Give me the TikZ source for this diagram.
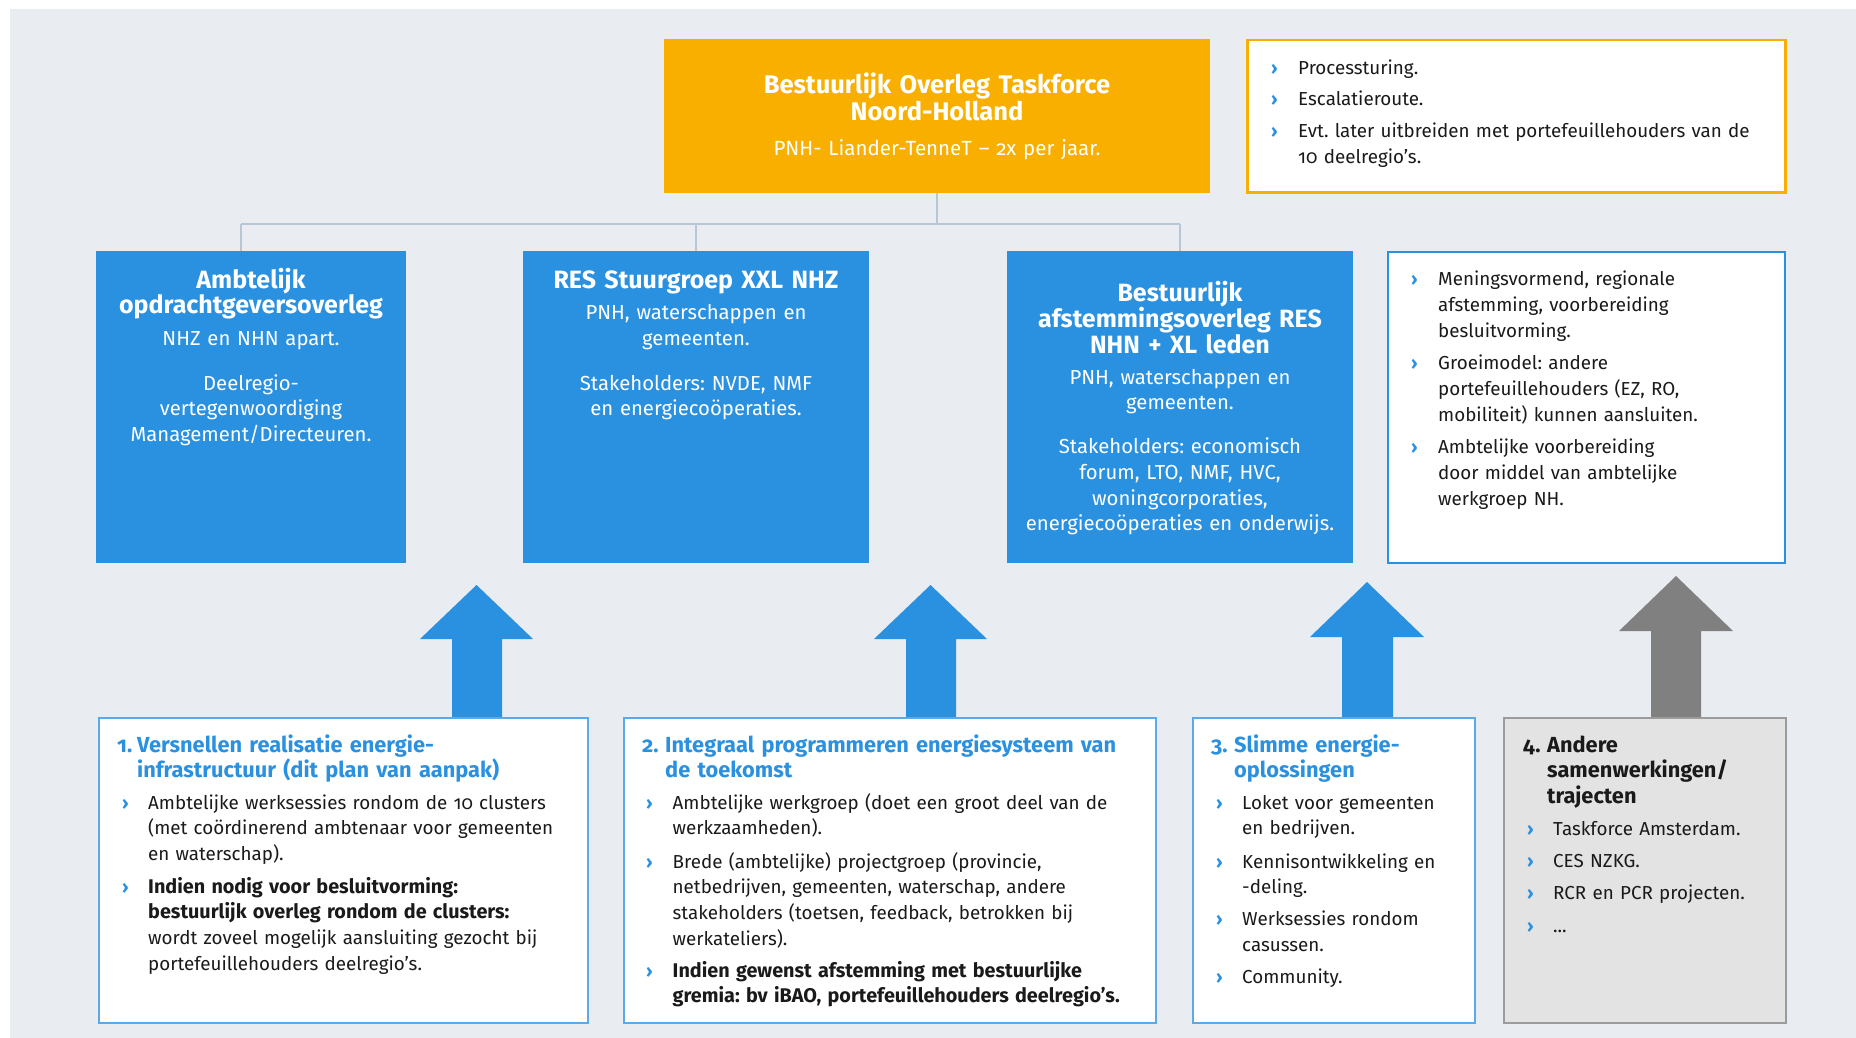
\documentclass[tikz,border=0pt]{standalone}
\usepackage{fontspec}
\setmainfont{Fira Sans}[Numbers=OldStyle]
\usetikzlibrary{calc}
\definecolor{bgc}{HTML}{E9EDF2}
\definecolor{orng}{HTML}{F9AF00}
\definecolor{blu}{HTML}{2A90E0}
\definecolor{bluline}{HTML}{5AAAE9}
\definecolor{conn}{HTML}{B9C6D6}
\definecolor{arrgray}{HTML}{808080}
\definecolor{grayfill}{HTML}{E3E3E3}
\definecolor{grayline}{HTML}{9B9B9B}
\definecolor{txt}{HTML}{1A1A1A}
\frenchspacing
\newcommand{\fbody}{\fontsize{18.8}{25.8}\selectfont}
\newcommand{\fblue}{\fontsize{20.3}{25.8}\selectfont}
\newcommand{\fbtitle}{\bfseries\fontsize{25}{25.5}\selectfont}
\newcommand{\fotitle}{\bfseries\fontsize{25.5}{24}\selectfont}
\newcommand{\fhead}{\bfseries\fontsize{21.8}{25.5}\selectfont}
\newcommand{\bld}[1]{{\bfseries\fontsize{19.8}{25.8}\selectfont #1}}
\newcommand{\bitem}[5]{%
  \node[bul] (#1b) at (#2,#4) {›};
  \node[itm] (#1) at (#3,#4) {#5};}
\begin{document}
\begin{tikzpicture}[x=1pt,y=-1pt,
  box/.style={rectangle, inner sep=0pt, anchor=north west},
  bul/.style={anchor=base west, inner sep=0pt, font=\bfseries\fontsize{18}{20}\selectfont, text=blu},
  itm/.style={anchor=base west, inner sep=0pt, font=\fbody, text=txt, text width=520pt, align=left},
  ctr/.style={anchor=base, inner sep=0pt, text=white, text width=340pt, align=center},
  hd/.style={anchor=base west, inner sep=0pt, font=\fhead, text=blu, text width=520pt, align=left},
  conline/.style={draw=conn, line width=2pt},
  arrow/.style={fill=blu}
]
\fill[white] (0,0) rectangle (1856,1038);
\useasboundingbox (0,0) rectangle (1856,1038);
\fill[bgc] (10,9) rectangle (1856,1038);

% top boxes
\node[box, fill=orng, minimum width=546pt, minimum height=154pt] (top) at (664,39) {};
\node[box, fill=white, draw=orng, line width=2.5pt, minimum width=538pt, minimum height=152pt] (note1) at (1246,39) {};

% blue boxes
\node[box, fill=blu, minimum width=310pt, minimum height=312pt] (b1) at (96,251) {};
\node[box, fill=blu, minimum width=346pt, minimum height=312pt] (b2) at (523,251) {};
\node[box, fill=blu, minimum width=346pt, minimum height=312pt] (b3) at (1007,251) {};
\node[box, fill=white, draw=blu, line width=2pt, minimum width=397pt, minimum height=311pt] (note2) at (1387,251) {};

% connectors
\coordinate (hL) at (241,224);
\coordinate (hR) at (1180,224);
\draw[conline] (hL) -- (hR);
\draw[conline] (top.south) -- (top.south |- hL);
\draw[conline] (hL) -- (hL |- b1.north);
\draw[conline] (b2.north |- hL) -- (b2.north);
\draw[conline] (hR) -- (hR |- b3.north);

% block arrows
\fill[arrow] (452,718) -- (452,639) -- (420,639) -- (476.5,585) -- (533,639) -- (502,639) -- (502,718) -- cycle;
\fill[arrow] (906,718) -- (906,639) -- (874,639) -- (930.5,585) -- (987,639) -- (956,639) -- (956,718) -- cycle;
\fill[arrow] (1342,718) -- (1342,637) -- (1310,637) -- (1367,582) -- (1424,637) -- (1393,637) -- (1393,718) -- cycle;
\fill[arrgray] (1651,718) -- (1651,631) -- (1619,631) -- (1676,576) -- (1733,631) -- (1701,631) -- (1701,718) -- cycle;

% bottom boxes
\node[box, fill=white, draw=bluline, line width=1.5pt, minimum width=489pt, minimum height=305pt] (c1) at (98,717) {};
\node[box, fill=white, draw=bluline, line width=1.5pt, minimum width=532pt, minimum height=305pt] (c2) at (623,717) {};
\node[box, fill=white, draw=bluline, line width=1.5pt, minimum width=282pt, minimum height=305pt] (c3) at (1192,717) {};
\node[box, fill=grayfill, draw=grayline, line width=2pt, minimum width=282pt, minimum height=305pt] (c4) at (1503,717) {};

% orange box text
\node[ctr, font=\fotitle, text width=540pt] (toptitle) at (937,94) {Bestuurlijk Overleg Taskforce\\Noord-Holland};
\node[ctr, font=\fontsize{20.5}{24}\selectfont, text width=540pt] (topsub) at (937,156) {PNH- Liander-TenneT – 2x per jaar.};

% note 1
\bitem{n1a}{1271}{1298}{75}{Processturing.}
\bitem{n1b}{1271}{1298}{106}{Escalatieroute.}
\bitem{n1c}{1271}{1298}{138}{Evt. later uitbreiden met portefeuillehouders van de\\10 deelregio’s.}

% blue box 1
\node[ctr, font=\fbtitle] (b1t) at (251,288) {Ambtelijk\\opdrachtgeversoverleg};
\node[ctr, font=\fblue] (b1p) at (251,345) {NHZ en NHN apart.};
\node[ctr, font=\fblue] (b1q) at (251,390) {Deelregio-\\vertegenwoordiging\\Management/Directeuren.};
% blue box 2
\node[ctr, font=\fbtitle] (b2t) at (696,288) {RES Stuurgroep XXL NHZ};
\node[ctr, font=\fblue] (b2p) at (696,319.5) {PNH, waterschappen en\\gemeenten.};
\node[ctr, font=\fblue] (b2q) at (696,390) {Stakeholders: NVDE, NMF\\en energiecoöperaties.};
% blue box 3
\node[ctr, font=\fbtitle] (b3t) at (1180,301) {Bestuurlijk\\afstemmingsoverleg RES\\NHN + XL leden};
\node[ctr, font=\fblue] (b3p) at (1180,384) {PNH, waterschappen en\\gemeenten.};
\node[ctr, font=\fblue] (b3q) at (1180,453.5) {Stakeholders: economisch\\forum, LTO, NMF, HVC,\\woningcorporaties,\\energiecoöperaties en onderwijs.};

% note 2
\bitem{n2a}{1411}{1438}{285.5}{Meningsvormend, regionale\\afstemming, voorbereiding\\besluitvorming.}
\bitem{n2b}{1411}{1438}{369.5}{Groeimodel: andere\\portefeuillehouders (EZ, RO,\\mobiliteit) kunnen aansluiten.}
\bitem{n2c}{1411}{1438}{453.5}{Ambtelijke voorbereiding\\door middel van ambtelijke\\werkgroep NH.}

% bottom box 1
\node[hd] (c1n) at (117,752) {1.};
\node[hd] (c1h) at (137,752) {Versnellen realisatie energie-\\infrastructuur (dit plan van aanpak)};
\bitem{c1a}{122}{148}{809}{Ambtelijke werksessies rondom de 10 clusters\\(met coördinerend ambtenaar voor gemeenten\\en waterschap).}
\bitem{c1b}{122}{148}{893}{\bld{Indien nodig voor besluitvorming:}\\\bld{bestuurlijk overleg rondom de clusters:}\\wordt zoveel mogelijk aansluiting gezocht bij\\portefeuillehouders deelregio’s.}

% bottom box 2
\node[hd] (c2n) at (642,752) {2.};
\node[hd] (c2h) at (665,752) {Integraal programmeren energiesysteem van\\de toekomst};
\bitem{c2a}{646}{672.5}{809}{Ambtelijke werkgroep (doet een groot deel van de\\werkzaamheden).}
\bitem{c2b}{646}{672.5}{868}{Brede (ambtelijke) projectgroep (provincie,\\netbedrijven, gemeenten, waterschap, andere\\stakeholders (toetsen, feedback, betrokken bij\\werkateliers).}
\bitem{c2c}{646}{672.5}{977}{\bld{Indien gewenst afstemming met bestuurlijke}\\\bld{gremia: bv iBAO, portefeuillehouders deelregio’s.}}

% bottom box 3
\node[hd] (c3n) at (1211,752) {3.};
\node[hd] (c3h) at (1234,752) {Slimme energie-\\oplossingen};
\bitem{c3a}{1216}{1242}{809}{Loket voor gemeenten\\en bedrijven.}
\bitem{c3b}{1216}{1242}{868}{Kennisontwikkeling en\\-deling.}
\bitem{c3c}{1216}{1242}{925.5}{Werksessies rondom\\casussen.}
\bitem{c3d}{1216}{1242}{983}{Community.}

% bottom box 4
\node[hd, text=txt] (c4n) at (1523,752) {4.};
\node[hd, text=txt] (c4h) at (1547,752) {Andere\\samenwerkingen/\\trajecten};
\bitem{c4a}{1527}{1553}{835}{Taskforce Amsterdam.}
\bitem{c4b}{1527}{1553}{867}{CES NZKG.}
\bitem{c4c}{1527}{1553}{899.5}{RCR en PCR projecten.}
\bitem{c4d}{1527}{1553}{932}{...}
\end{tikzpicture}
\end{document}
